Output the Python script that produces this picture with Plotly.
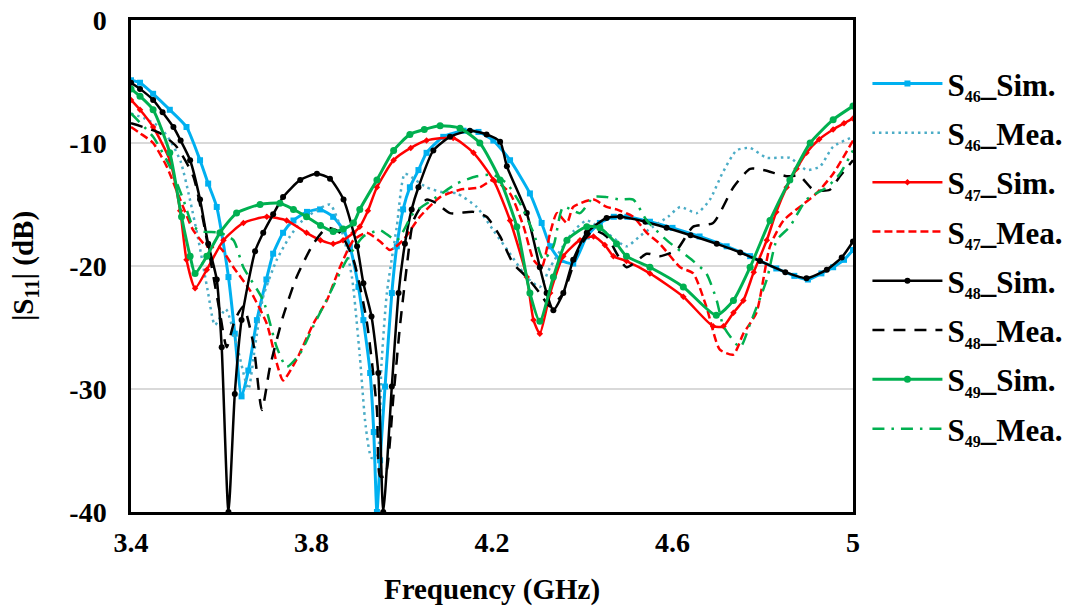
import plotly.graph_objects as go

# ---------------- data ----------------
s46_sim_x = [3.40, 3.42, 3.449, 3.486, 3.523, 3.553, 3.571, 3.59, 3.616, 3.63, 3.645, 3.66, 3.679, 3.70, 3.715,
             3.737, 3.76, 3.79, 3.819, 3.848, 3.871, 3.885, 3.904, 3.915, 3.93, 3.938, 3.945, 3.952, 3.963, 3.978,
             3.989, 4.003, 4.018, 4.037, 4.055, 4.092, 4.137, 4.17, 4.203, 4.24, 4.284, 4.31, 4.329, 4.351, 4.38,
             4.41, 4.439, 4.47, 4.50, 4.55, 4.60, 4.66, 4.72, 4.772, 4.83, 4.87, 4.90, 4.93, 4.956, 4.98, 5.00]
s46_sim_y = [-4.9, -5.1, -6.0, -7.3, -8.7, -11.4, -13.3, -15.2, -20.9, -25.5, -30.6, -28.5, -24.4, -21.1, -19.0,
             -17.3, -16.3, -15.6, -15.4, -16.0, -17.1, -18.4, -21.7, -24.4, -28.7, -33.5, -40.0, -35.8, -29.8, -22.2,
             -18.4, -15.4, -13.6, -12.2, -10.8, -9.5, -9.0, -9.1, -9.8, -11.4, -14.1, -16.5, -18.4, -19.5, -19.8,
             -17.6, -16.5, -16.0, -16.0, -16.4, -16.9, -17.6, -18.4, -19.2, -20.2, -20.8, -21.1, -20.6, -20.1, -19.5, -18.7]

s46_mea_x = [3.40, 3.43, 3.464, 3.49, 3.51, 3.53, 3.55, 3.57, 3.586, 3.61, 3.635, 3.66, 3.675, 3.693, 3.723,
             3.752, 3.78, 3.81, 3.841, 3.87, 3.89, 3.907, 3.92, 3.933, 3.945, 3.955, 3.967, 3.989, 4.007, 4.03,
             4.055, 4.09, 4.122, 4.166, 4.203, 4.24, 4.277, 4.306, 4.329, 4.357, 4.38, 4.41, 4.454, 4.498, 4.53,
             4.557, 4.59, 4.617, 4.654, 4.683, 4.71, 4.742, 4.772, 4.809, 4.86, 4.897, 4.927, 4.956, 5.00]
s46_mea_y = [-7.6, -8.0, -8.7, -10.0, -11.5, -14.5, -18.0, -22.0, -24.8, -23.5, -26.5, -30.0, -26.5, -22.5, -19.5,
             -17.6, -16.3, -15.5, -15.0, -17.5, -21.0, -27.3, -33.0, -35.6, -35.5, -28.0, -22.2, -16.8, -12.5, -13.0,
             -13.6, -14.0, -14.1, -15.2, -17.1, -19.0, -20.9, -21.7, -20.1, -18.4, -17.2, -16.3, -17.3, -18.4, -17.5,
             -16.8, -16.0, -15.2, -15.7, -14.6, -12.5, -10.6, -10.4, -11.2, -11.2, -12.2, -11.9, -10.3, -9.5]

s47_sim_x = [3.40, 3.42, 3.449, 3.486, 3.509, 3.523, 3.542, 3.568, 3.605, 3.649, 3.701, 3.745, 3.789, 3.82, 3.848,
             3.87, 3.893, 3.907, 3.925, 3.945, 3.982, 4.02, 4.055, 4.114, 4.159, 4.203, 4.24, 4.277, 4.292, 4.306,
             4.329, 4.358, 4.395, 4.425, 4.45, 4.469, 4.498, 4.55, 4.624, 4.69, 4.713, 4.735, 4.757, 4.78, 4.809,
             4.83, 4.853, 4.875, 4.897, 4.925, 4.956, 4.98, 5.00]
s47_sim_y = [-6.5, -7.3, -8.7, -11.4, -15.5, -19.5, -21.8, -20.3, -17.9, -16.5, -16.0, -16.3, -17.3, -17.9, -18.2,
             -17.9, -17.3, -16.8, -15.5, -13.6, -11.4, -10.4, -9.8, -9.6, -10.8, -13.0, -16.3, -20.9, -24.4, -25.5,
             -22.2, -19.2, -17.9, -17.6, -18.3, -19.2, -19.6, -20.6, -22.5, -24.9, -24.9, -23.8, -22.8, -20.5, -17.9,
             -15.6, -13.6, -12.1, -10.8, -9.7, -8.9, -8.4, -8.0]

s47_mea_x = [3.40, 3.42, 3.449, 3.479, 3.509, 3.538, 3.568, 3.597, 3.627, 3.664, 3.701, 3.723, 3.737, 3.767, 3.804,
             3.834, 3.863, 3.893, 3.922, 3.952, 3.974, 4.003, 4.04, 4.085, 4.129, 4.173, 4.203, 4.24, 4.27, 4.292,
             4.31, 4.329, 4.344, 4.366, 4.38, 4.425, 4.454, 4.476, 4.513, 4.543, 4.572, 4.617, 4.646, 4.675, 4.705,
             4.735, 4.757, 4.786, 4.816, 4.846, 4.882, 4.919, 4.956, 5.00]
s47_mea_y = [-8.7, -9.2, -10.0, -11.9, -14.6, -17.1, -18.4, -18.5, -20.1, -22.0, -24.7, -27.9, -29.3, -27.6, -24.7,
             -22.8, -20.1, -17.9, -17.3, -18.0, -18.7, -17.9, -16.0, -14.4, -13.8, -13.6, -13.0, -14.1, -16.8, -19.5,
             -20.1, -17.3, -15.7, -16.5, -15.2, -14.6, -15.2, -15.4, -16.0, -17.3, -18.2, -20.1, -20.6, -23.3, -26.8,
             -27.2, -25.5, -23.8, -18.4, -16.3, -15.2, -14.1, -12.5, -9.8]

s48_sim_x = [3.40, 3.42, 3.449, 3.47, 3.494, 3.51, 3.531, 3.553, 3.571, 3.59, 3.601, 3.616, 3.63, 3.645, 3.675,
             3.693, 3.715, 3.737, 3.775, 3.812, 3.841, 3.871, 3.901, 3.915, 3.933, 3.948, 3.959, 3.978, 3.993, 4.007,
             4.022, 4.037, 4.07, 4.107, 4.151, 4.188, 4.218, 4.233, 4.277, 4.306, 4.321, 4.336, 4.358, 4.38, 4.41,
             4.454, 4.484, 4.54, 4.587, 4.64, 4.698, 4.75, 4.794, 4.85, 4.897, 4.942, 4.975, 5.00]
s48_sim_y = [-5.1, -5.6, -6.5, -7.5, -8.7, -9.8, -11.4, -14.6, -18.2, -21.1, -26.6, -40.0, -30.4, -24.4, -18.8,
             -17.3, -15.8, -14.4, -13.0, -12.5, -12.9, -14.6, -18.4, -21.4, -24.1, -28.7, -40.0, -29.8, -22.2, -18.2,
             -15.4, -13.6, -10.6, -9.5, -9.0, -9.3, -9.9, -11.9, -15.7, -20.1, -22.2, -23.6, -22.2, -19.5, -17.3,
             -16.1, -16.0, -16.4, -16.9, -17.5, -18.2, -18.9, -19.6, -20.5, -21.0, -20.3, -19.3, -18.0]

s48_mea_x = [3.40, 3.464, 3.501, 3.538, 3.56, 3.579, 3.597, 3.612, 3.63, 3.649, 3.671, 3.69, 3.708, 3.737, 3.767,
             3.804, 3.834, 3.863, 3.893, 3.922, 3.945, 3.952, 3.963, 3.982, 3.996, 4.011, 4.026, 4.055, 4.077, 4.107,
             4.159, 4.188, 4.218, 4.247, 4.277, 4.306, 4.329, 4.358, 4.395, 4.425, 4.454, 4.498, 4.543, 4.572, 4.609,
             4.646, 4.69, 4.735, 4.772, 4.801, 4.853, 4.882, 4.912, 4.949, 4.971, 5.00]
s48_mea_y = [-8.4, -9.2, -10.3, -12.7, -16.3, -20.1, -23.8, -26.6, -24.4, -23.3, -26.3, -31.7, -28.2, -24.1, -20.9,
             -18.2, -16.9, -17.3, -19.5, -24.4, -31.7, -37.1, -37.1, -30.4, -24.9, -20.1, -16.3, -14.6, -14.9, -15.7,
             -15.6, -16.0, -17.6, -19.8, -20.9, -22.2, -23.3, -22.2, -18.4, -17.1, -17.6, -20.1, -19.0, -19.2, -18.7,
             -16.8, -16.5, -13.6, -12.1, -12.2, -12.7, -12.7, -13.8, -13.8, -12.7, -11.4]

s49_sim_x = [3.40, 3.42, 3.449, 3.486, 3.512, 3.531, 3.542, 3.568, 3.597, 3.634, 3.686, 3.73, 3.76, 3.789, 3.82,
             3.848, 3.87, 3.893, 3.907, 3.945, 3.982, 4.018, 4.05, 4.085, 4.129, 4.173, 4.218, 4.255, 4.284, 4.306,
             4.336, 4.366, 4.41, 4.439, 4.476, 4.498, 4.55, 4.624, 4.697, 4.735, 4.772, 4.816, 4.86, 4.905, 4.956, 5.00]
s49_sim_y = [-5.6, -6.2, -7.3, -10.8, -16.0, -19.2, -20.6, -19.2, -17.3, -15.7, -15.0, -14.9, -15.4, -16.0, -16.7,
             -17.2, -17.0, -16.5, -15.4, -13.0, -10.6, -9.3, -8.9, -8.6, -8.8, -10.0, -13.0, -16.8, -22.2, -24.5,
             -20.9, -17.9, -16.8, -16.9, -18.2, -19.2, -20.1, -21.7, -24.0, -22.8, -20.1, -16.3, -13.0, -10.0, -8.1, -7.0]

s49_mea_x = [3.40, 3.449, 3.486, 3.516, 3.538, 3.56, 3.597, 3.627, 3.649, 3.693, 3.723, 3.745, 3.775, 3.804, 3.841,
             3.878, 3.915, 3.952, 3.989, 4.026, 4.077, 4.122, 4.166, 4.203, 4.233, 4.262, 4.292, 4.314, 4.336, 4.358,
             4.395, 4.425, 4.454, 4.484, 4.513, 4.543, 4.587, 4.646, 4.675, 4.698, 4.713, 4.75, 4.772, 4.809, 4.831,
             4.86, 4.897, 4.942, 4.971, 5.00]
s49_mea_y = [-7.6, -9.5, -11.9, -14.6, -16.8, -17.2, -17.3, -17.9, -20.1, -22.8, -26.6, -28.2, -27.1, -24.9, -22.2,
             -19.5, -17.6, -17.1, -17.9, -15.7, -14.4, -13.3, -12.7, -12.6, -13.3, -14.9, -17.3, -19.5, -18.4, -15.2,
             -15.7, -14.4, -14.4, -14.6, -14.6, -16.3, -17.9, -19.6, -20.6, -22.8, -24.9, -26.6, -24.7, -21.1, -17.9,
             -16.8, -14.6, -13.6, -12.5, -10.6]

x_ticks = [3.4, 3.8, 4.2, 4.6, 5.0]
x_tick_labels = ["3.4", "3.8", "4.2", "4.6", "5"]
y_ticks = [0, -10, -20, -30, -40]
y_tick_labels = ["0", "-10", "-20", "-30", "-40"]
port_ids = ["46", "46", "47", "47", "48", "48", "49", "49"]
kinds = ["Sim.", "Mea.", "Sim.", "Mea.", "Sim.", "Mea.", "Sim.", "Mea."]

# ---------------- styles ----------------
styles = [
    (dict(color="#00B0F0", width=3), dict(symbol="square", size=6, color="#00B0F0")),
    (dict(color="#4BACC6", width=2.5, dash="2.5px,4px"), None),
    (dict(color="#FF0000", width=2.5), dict(symbol="diamond", size=5, color="#FF0000")),
    (dict(color="#FF0000", width=2.5, dash="8px,4px"), None),
    (dict(color="#000000", width=2.5), dict(symbol="circle", size=6, color="#000000")),
    (dict(color="#000000", width=2.5, dash="12px,9px"), None),
    (dict(color="#00B050", width=3), dict(symbol="circle", size=7, color="#00B050")),
    (dict(color="#00B050", width=2.5, dash="12px,7px,2.5px,7px"), None),
]
data = [
    (s46_sim_x, s46_sim_y), (s46_mea_x, s46_mea_y),
    (s47_sim_x, s47_sim_y), (s47_mea_x, s47_mea_y),
    (s48_sim_x, s48_sim_y), (s48_mea_x, s48_mea_y),
    (s49_sim_x, s49_sim_y), (s49_mea_x, s49_mea_y),
]

fig = go.Figure()
for i, ((xs, ys), (line, marker)) in enumerate(zip(data, styles)):
    name = f"<b>S<sub><span style='font-size:16px'>{port_ids[i]}</span></sub>_{kinds[i]}</b>"
    line = dict(line, shape="spline", smoothing=0.6)
    kw = dict(x=xs, y=ys, name=name, line=line, legendgroup=f"g{i}")
    if marker is not None:
        kw["mode"] = "lines+markers"
        kw["marker"] = marker
    else:
        kw["mode"] = "lines"
    fig.add_trace(go.Scatter(**kw))

font_family = "Liberation Serif, Times New Roman, serif"

fig.update_layout(
    width=1074, height=608,
    margin=dict(l=131, r=221, t=20, b=96, autoexpand=False),
    paper_bgcolor="white", plot_bgcolor="white",
    font=dict(family=font_family, size=22, color="black"),
    showlegend=True,
    legend=dict(
        x=1.02, y=0.925, xanchor="left", yanchor="top",
        font=dict(family=font_family, size=31, color="black"),
        tracegroupgap=6, itemwidth=70,
        bgcolor="rgba(0,0,0,0)",
    ),
    xaxis=dict(
        range=[3.4, 5.0], tickvals=x_ticks, ticktext=["<b>" + t + "</b>" for t in x_tick_labels],
        showgrid=False, zeroline=False, showline=True, linecolor="black", linewidth=2.5, mirror=True,
        ticks="", ticklabelstandoff=4,
        tickfont=dict(family=font_family, size=28, color="black"),
        title=dict(text="<b>Frequency (GHz)</b>", font=dict(family=font_family, size=29, color="black"), standoff=22),
    ),
    yaxis=dict(
        range=[-40, 0], tickvals=y_ticks, ticktext=["<b>" + t + "</b>" for t in y_tick_labels],
        showgrid=True, gridcolor="#D9D9D9", gridwidth=2, zeroline=False,
        showline=True, linecolor="black", linewidth=2.5, mirror=True,
        ticks="", ticklabelstandoff=16,
        tickfont=dict(family=font_family, size=28, color="black"),
        title=dict(text="<b>|S<sub>11</sub>| (dB)</b>", font=dict(family=font_family, size=29, color="black"), standoff=28),
    ),
)

fig.write_html("out.html")
